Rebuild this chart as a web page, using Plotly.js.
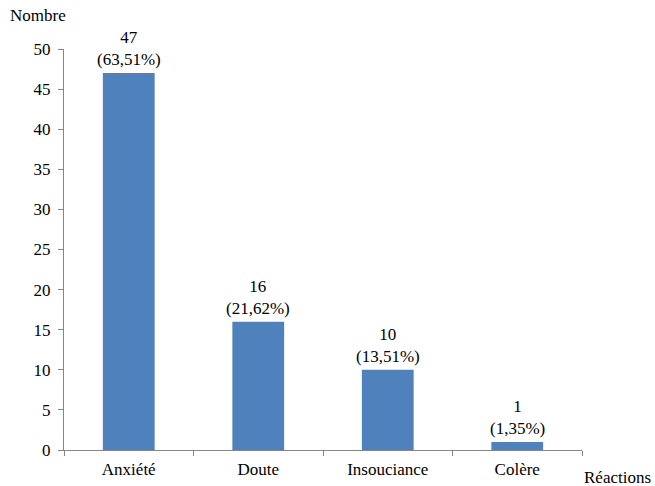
<!DOCTYPE html>
<html><head><meta charset="utf-8">
<script src="https://cdn.plot.ly/plotly-3.0.1.min.js"></script>
<style>body{margin:0}#c{width:655px;height:486px}</style>
</head><body><div id="c"></div>
<script>
const categories = ["Anxiété", "Doute", "Insouciance", "Colère"];
const values = [47, 16, 10, 1];
const percents = ["63,51%", "21,62%", "13,51%", "1,35%"];
const yTicks = [0, 5, 10, 15, 20, 25, 30, 35, 40, 45, 50];

const font = {family: 'Liberation Serif', size: 17, color: "#000"};
const axisColor = "#868686";

const annotations = categories.map((c, i) => ({
  x: c, y: values[i], xref: "x", yref: "y",
  text: values[i] + "<br>(" + percents[i] + ")",
  showarrow: false, yanchor: "bottom", yshift: 2, font: font
}));
annotations.push({xref: "paper", yref: "paper", x: -0.108, y: 1.055, xanchor: "left", yanchor: "bottom",
  text: "Nombre", showarrow: false, font: font});
annotations.push({xref: "paper", yref: "paper", x: 1.0, y: -0.04, xanchor: "left", yanchor: "top",
  text: "Réactions", showarrow: false, font: font});

Plotly.newPlot("c", [{
  type: "bar", x: categories, y: values,
  marker: {color: "#4F81BD"}, hoverinfo: "none"
}], {
  width: 655, height: 486,
  margin: {l: 64, r: 73, t: 49, b: 36},
  paper_bgcolor: "#fff", plot_bgcolor: "#fff",
  bargap: 0.6,
  showlegend: false,
  font: font,
  xaxis: {
    showline: true, linecolor: axisColor, linewidth: 1,
    ticks: "outside", tickson: "boundaries", ticklen: 5, tickcolor: axisColor,
    showgrid: false, zeroline: false, tickfont: font, ticklabelstandoff: 4
  },
  yaxis: {
    range: [0, 50], tickvals: yTicks, ticktext: yTicks.map(String),
    showline: true, linecolor: axisColor, linewidth: 1,
    ticks: "outside", ticklen: 5, tickcolor: axisColor,
    showgrid: false, zeroline: false, tickfont: font, ticklabelstandoff: 4
  },
  annotations: annotations
}, {staticPlot: true});
</script></body></html>
